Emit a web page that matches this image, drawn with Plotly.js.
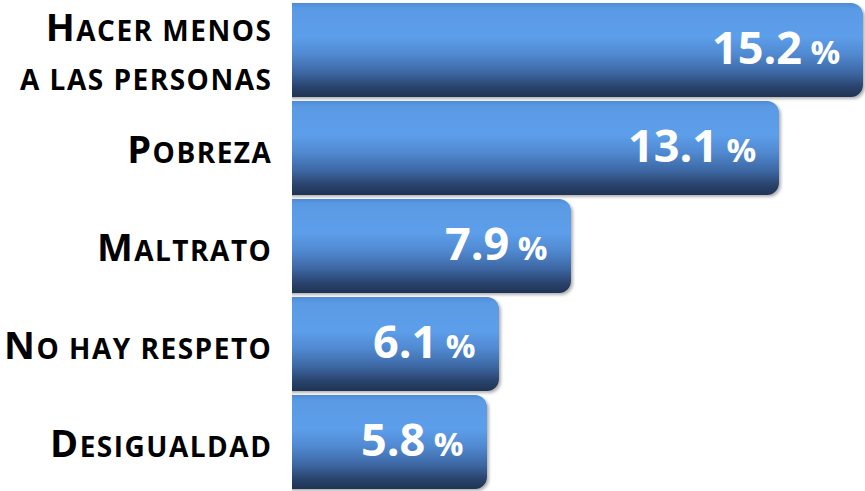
<!DOCTYPE html>
<html>
<head>
<meta charset="utf-8">
<script src="https://cdn.plot.ly/plotly-3.0.1.min.js"></script>
<style>
  html, body { margin: 0; padding: 0; background: #ffffff; }
  #chart { width: 865px; height: 491px; }
  #chart .ytick text { letter-spacing: 1.5px; }
</style>
</head>
<body>
<div id="chart"></div>
<script>
// ---- data ----
const categories = ["Hacer menos<br>a las personas", "Pobreza", "Maltrato", "No hay respeto", "Desigualdad"];
const values = [15.2, 13.1, 7.9, 6.1, 5.8];
const valueLabels = ["15.2", "13.1", "7.9", "6.1", "5.8"];
const unitLabel = "%";

// small-caps rendering of a label: capitals stay full size, lowercase runs become smaller capitals
function smallCaps(label) {
  return label.split("<br>").map(line =>
    line.replace(/[^A-ZÁÉÍÓÚÑ]+/g, run => "<span style=\"font-size:28px\">" + run.toUpperCase() + "</span>")
  ).join("<br>");
}

const trace = {
  type: "bar",
  orientation: "h",
  x: values,
  y: categories,
  marker: { color: "#4a84cc", cornerradius: 12 },
  hoverinfo: "skip"
};

const annotations = values.map((v, i) => ({
  x: v,
  y: categories[i],
  xref: "x",
  yref: "y",
  xanchor: "right",
  yanchor: "middle",
  xshift: -21,
  yshift: 4,
  showarrow: false,
  text: "<b>" + valueLabels[i] + "</b><span style=\"font-size:33px\"> " + unitLabel + "</span>",
  font: { family: "Open Sans", size: 45, color: "#ffffff", weight: 700 }
}));

const layout = {
  width: 865,
  height: 491,
  margin: { l: 292, r: 0, t: 1, b: 0, pad: 0 },
  paper_bgcolor: "#ffffff",
  plot_bgcolor: "#ffffff",
  showlegend: false,
  bargap: 0.04,
  xaxis: {
    range: [0.925, 15.25],
    visible: false,
    fixedrange: true
  },
  yaxis: {
    autorange: "reversed",
    showgrid: false,
    zeroline: false,
    showline: false,
    ticks: "outside",
    ticklen: 11,
    tickcolor: "rgba(0,0,0,0)",
    tickmode: "array",
    tickvals: categories,
    ticktext: categories.map(smallCaps),
    ticklabelshift: -2,
    tickfont: { family: "Open Sans", size: 38, color: "#000000", weight: 700 },
    fixedrange: true
  },
  annotations: annotations
};

function applyGradient(gd) {
  const svg = gd.querySelector("svg.main-svg");
  if (!svg) return;
  const NS = "http://www.w3.org/2000/svg";
  let defs = svg.querySelector("defs");
  if (!defs) { defs = document.createElementNS(NS, "defs"); svg.insertBefore(defs, svg.firstChild); }
  if (!svg.querySelector("#barGrad")) {
    const lg = document.createElementNS(NS, "linearGradient");
    lg.setAttribute("id", "barGrad");
    lg.setAttribute("x1", "0"); lg.setAttribute("y1", "0");
    lg.setAttribute("x2", "0"); lg.setAttribute("y2", "1");
    const stops = [
      [0, "#4f8ad4"], [0.06, "#5a9ae5"], [0.36, "#5d9eea"], [0.55, "#5089d0"],
      [0.74, "#3d67a3"], [0.89, "#2a446d"], [1, "#1f3354"]
    ];
    stops.forEach(s => {
      const st = document.createElementNS(NS, "stop");
      st.setAttribute("offset", s[0]);
      st.setAttribute("stop-color", s[1]);
      lg.appendChild(st);
    });
    defs.appendChild(lg);
    const f = document.createElementNS(NS, "filter");
    f.setAttribute("id", "barShadow");
    f.setAttribute("x", "-5%"); f.setAttribute("y", "-10%");
    f.setAttribute("width", "115%"); f.setAttribute("height", "130%");
    const ds = document.createElementNS(NS, "feDropShadow");
    ds.setAttribute("dx", "2"); ds.setAttribute("dy", "2");
    ds.setAttribute("stdDeviation", "1.5");
    ds.setAttribute("flood-color", "#000000");
    ds.setAttribute("flood-opacity", "0.3");
    f.appendChild(ds);
    defs.appendChild(f);
  }
  gd.querySelectorAll(".barlayer .point path").forEach(p => {
    p.style.fill = "url(#barGrad)";
    p.style.filter = "url(#barShadow)";
  });
}

const gd = document.getElementById("chart");
Plotly.newPlot(gd, [trace], layout, { displayModeBar: false, staticPlot: true }).then(() => {
  applyGradient(gd);
  gd.on && gd.on("plotly_afterplot", () => applyGradient(gd));
});
</script>
</body>
</html>
